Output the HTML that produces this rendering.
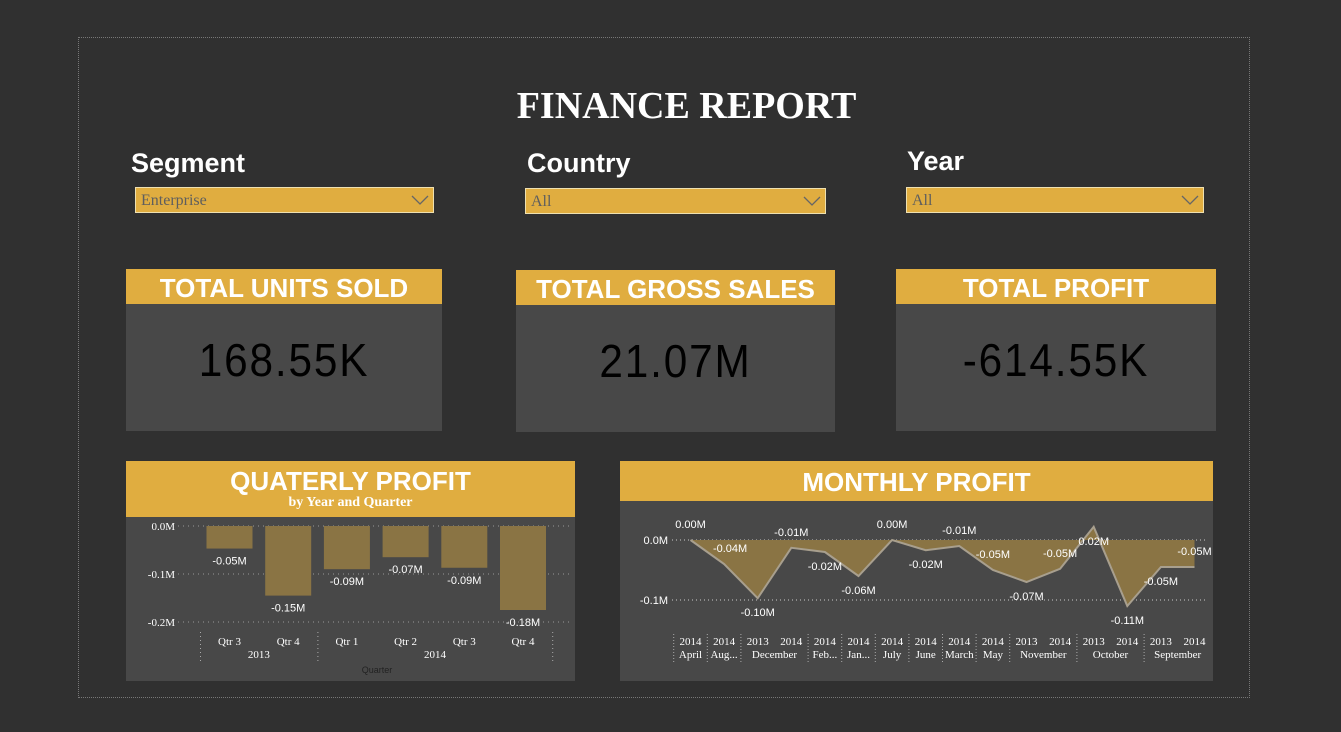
<!DOCTYPE html>
<html><head><meta charset="utf-8"><style>
body{margin:0;width:1341px;height:732px;background:#303030;position:relative;overflow:hidden;font-family:"Liberation Sans",sans-serif;}
.abs{position:absolute;}
.frame{left:78px;top:37px;width:1170px;height:659px;border:1px dotted #777;}
.title{left:0;width:1373px;top:84px;text-align:center;font-family:"Liberation Serif",serif;font-weight:bold;font-size:38px;color:#fff;}
.lbl{font-weight:bold;font-size:27px;color:#fff;}
.dd{background:#e0ad40;border:1px solid #eee0b0;height:26px;box-sizing:border-box;font-family:"Liberation Serif",serif;font-size:16px;color:#5e5e5e;padding:4px 5px;}
.dd svg{position:absolute;right:4px;top:7px;}
.card{background:#484848;}
.chead{background:#e0ad40;color:#fff;font-weight:bold;text-align:center;}
.kv{position:absolute;left:0;right:0;text-align:center;font-size:46px;color:#000;letter-spacing:2px;transform:scaleX(0.92);}
</style></head><body>
<div class="abs frame"></div>
<div class="abs title">FINANCE REPORT</div>

<div class="abs lbl" style="left:131px;top:148px">Segment</div>
<div class="abs dd" style="left:135px;top:187px;width:299px">Enterprise<svg width="18" height="10"><polyline points="1,1 9,9 17,1" fill="none" stroke="#666" stroke-width="1.3"/></svg></div>
<div class="abs lbl" style="left:527px;top:148px">Country</div>
<div class="abs dd" style="left:525px;top:188px;width:301px">All<svg width="18" height="10"><polyline points="1,1 9,9 17,1" fill="none" stroke="#666" stroke-width="1.3"/></svg></div>
<div class="abs lbl" style="left:907px;top:146px">Year</div>
<div class="abs dd" style="left:906px;top:187px;width:298px">All<svg width="18" height="10"><polyline points="1,1 9,9 17,1" fill="none" stroke="#666" stroke-width="1.3"/></svg></div>

<div class="abs card" style="left:126px;top:269px;width:316px;height:162px">
<div class="chead" style="height:35px;font-size:26px;line-height:38px">TOTAL UNITS SOLD</div>
<div class="kv" style="top:64px">168.55K</div></div>
<div class="abs card" style="left:516px;top:270px;width:319px;height:162px">
<div class="chead" style="height:35px;font-size:26px;line-height:38px">TOTAL GROSS SALES</div>
<div class="kv" style="top:64px">21.07M</div></div>
<div class="abs card" style="left:896px;top:269px;width:320px;height:162px">
<div class="chead" style="height:35px;font-size:26px;line-height:38px">TOTAL PROFIT</div>
<div class="kv" style="top:64px">-614.55K</div></div>

<div class="abs card" style="left:126px;top:461px;width:449px;height:220px">
<div class="chead" style="height:56px"><div style="font-size:26px;line-height:40px;padding-top:0">QUATERLY PROFIT</div><div style="font-family:'Liberation Serif',serif;font-size:14px;margin-top:-6px">by Year and Quarter</div></div></div>
<div class="abs card" style="left:620px;top:461px;width:593px;height:220px">
<div class="chead" style="height:40px;font-size:26px;line-height:42px">MONTHLY PROFIT</div></div>

<svg class="abs" style="left:0;top:0" width="1341" height="732" id="charts"></svg>
<script>
const qCats=["Qtr 3","Qtr 4","Qtr 1","Qtr 2","Qtr 3","Qtr 4"];
const qYears=["2013","2014"];
const qVals=[-0.047,-0.145,-0.09,-0.065,-0.087,-0.175];
const qLabels=["-0.05M","-0.15M","-0.09M","-0.07M","-0.09M","-0.18M"];
const qTicks=[0,-0.1,-0.2];
const qTickLabels=["0.0M","-0.1M","-0.2M"];
const mYears=["2014","2014","2013","2014","2014","2014","2014","2014","2014","2014","2013","2014","2013","2014","2013","2014"];
const mGroups=["April","Aug...","December","Feb...","Jan...","July","June","March","May","November","October","September"];
const mGroupSizes=[1,1,2,1,1,1,1,1,1,2,2,2];
const mVals=[0.0,-0.04,-0.097,-0.013,-0.02,-0.06,0.0,-0.017,-0.01,-0.05,-0.07,-0.048,0.022,-0.11,-0.045,-0.045];
const mLabels=["0.00M","-0.04M","-0.10M","-0.01M","-0.02M","-0.06M","0.00M","-0.02M","-0.01M","-0.05M","-0.07M","-0.05M","0.02M","-0.11M","-0.05M","-0.05M"];
const mTicks=[0,-0.1];
const mTickLabels=["0.0M","-0.1M"];

const NS="http://www.w3.org/2000/svg";
const svg=document.getElementById('charts');
function mk(tag,attrs,text){const e=document.createElementNS(NS,tag);for(const k in attrs)e.setAttribute(k,attrs[k]);if(text!==undefined)e.textContent=text;svg.appendChild(e);return e;}
const serif="Liberation Serif, serif", sans="Liberation Sans, sans-serif";

// Quarterly
const qy=v=>526-v*480;
const qx=i=>229.5+i*58.7;
qTicks.forEach((t,i)=>{
  let l=mk('line',{x1:178,x2:570,y1:qy(t),y2:qy(t),stroke:'#999','stroke-dasharray':'1,4'});
  
  let tx=mk('text',{x:175,y:qy(t)+4,'text-anchor':'end',fill:'#fff','font-size':11,'font-family':serif},qTickLabels[i]);
  
});
qVals.forEach((v,i)=>{
  const y0=Math.min(qy(0),qy(v)),h=Math.abs(qy(v)-qy(0));
  let r=mk('rect',{x:qx(i)-23,y:y0,width:46,height:h,fill:'#8a7444'});
  
  let t=mk('text',{x:qx(i),y:qy(v)+16,'text-anchor':'middle',fill:'#fff','font-size':11,'font-family':sans},qLabels[i]);
  
  let c=mk('text',{x:qx(i),y:645,'text-anchor':'middle',fill:'#fff','font-size':11,'font-family':serif},qCats[i]);
  
});
[0,2,6].forEach(k=>{let l=mk('line',{x1:qx(k)-29,x2:qx(k)-29,y1:632,y2:662,stroke:'#aaa','stroke-dasharray':'1,3'});
  });
[[0,1],[2,5]].forEach((g,i)=>{let t=mk('text',{x:(qx(g[0])+qx(g[1]))/2,y:658,'text-anchor':'middle',fill:'#fff','font-size':11,'font-family':serif},qYears[i]);
  });
let qa=mk('text',{x:377,y:673,'text-anchor':'middle',fill:'#222','font-size':9,'font-family':sans},'Quarter');


// Monthly
const my=v=>540-v*600;
const mx=i=>690.5+i*33.6;
const labelAbove=[1,1,0,1,0,0,1,0,1,1,0,1,0,0,0,1];
mTicks.forEach((t,i)=>{
  let l=mk('line',{x1:672,x2:1208,y1:my(t),y2:my(t),stroke:'#ccc','stroke-dasharray':'1,3'});
  
  let tx=mk('text',{x:668,y:my(t)+4,'text-anchor':'end',fill:'#fff','font-size':11,'font-family':sans},mTickLabels[i]);
  
});
let pts=mVals.map((v,i)=>mx(i)+','+my(v));
let area=mk('polygon',{points:mx(0)+','+my(0)+' '+pts.join(' ')+' '+mx(mVals.length-1)+','+my(0),fill:'#8a7444'});

let line=mk('polyline',{points:pts.join(' '),fill:'none',stroke:'#a89f8e','stroke-width':2});

mVals.forEach((v,i)=>{
  const off=labelAbove[i]?-12:18;
  let t=mk('text',{x:mx(i)+(i==1?6:0),y:my(v)+off,'text-anchor':'middle',fill:'#fff','font-size':11,'font-family':sans},mLabels[i]);
  
  let y=mk('text',{x:mx(i),y:645,'text-anchor':'middle',fill:'#fff','font-size':11,'font-family':serif},mYears[i]);
  
});
let idx=0;
mGroups.forEach((g,i)=>{
  const n=mGroupSizes[i];
  let s=mk('line',{x1:mx(idx)-16.8,x2:mx(idx)-16.8,y1:634,y2:662,stroke:'#aaa','stroke-dasharray':'1,2'});
  
  let t=mk('text',{x:(mx(idx)+mx(idx+n-1))/2,y:658,'text-anchor':'middle',fill:'#fff','font-size':11,'font-family':serif},g);
  
  idx+=n;
});
</script>
</body></html>
